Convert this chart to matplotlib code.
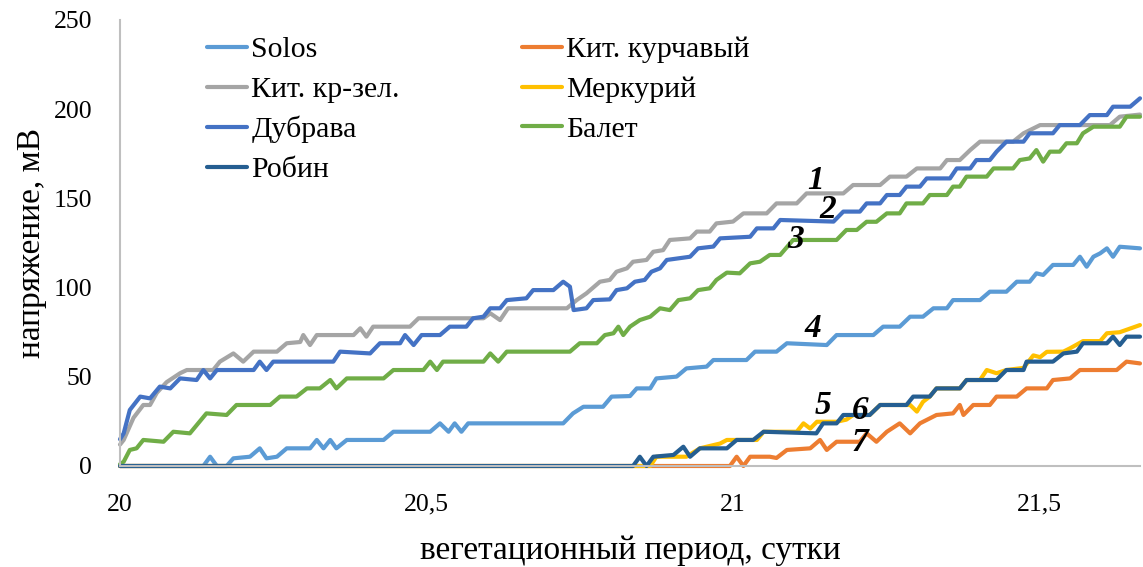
import matplotlib
matplotlib.use('Agg')
import matplotlib.pyplot as plt

plt.rcParams['font.family'] = ['Liberation Serif', 'DejaVu Serif']

# voltage readings, mV, against day of the growing season
solos_x = [20.0, 20.136, 20.147, 20.158, 20.174, 20.185, 20.212, 20.228, 20.239, 20.256, 20.272, 20.310,
           20.321, 20.332, 20.343, 20.353, 20.370, 20.430, 20.446, 20.506, 20.522, 20.536, 20.546, 20.557,
           20.568, 20.723, 20.739, 20.756, 20.788, 20.802, 20.832, 20.843, 20.865, 20.875, 20.908, 20.924,
           20.957, 20.968, 21.022, 21.036, 21.071, 21.088, 21.153, 21.169, 21.229, 21.245, 21.272, 21.289,
           21.310, 21.327, 21.349, 21.359, 21.403, 21.419, 21.446, 21.463, 21.484, 21.495, 21.506, 21.522,
           21.555, 21.566, 21.577, 21.588, 21.599, 21.610, 21.620, 21.631, 21.664]
solos_y = [0, 0, 5.2, 0, 0, 4.3, 5.2, 9.9, 4.3, 5.2, 9.9, 9.9,
           14.6, 9.9, 14.6, 9.9, 14.6, 14.6, 19.2, 19.2, 23.9, 19.2, 23.9, 19.2,
           23.9, 23.9, 29.5, 33.2, 33.2, 38.9, 39.2, 43.5, 43.5, 49.1, 50.1, 54.7,
           55.7, 59.4, 59.4, 64.1, 64.1, 68.8, 67.8, 73.4, 73.4, 78.1, 78.1, 83.7,
           83.7, 88.4, 88.4, 93.0, 93.0, 97.7, 97.7, 103.3, 103.3, 108.0, 107.1, 112.7,
           112.7, 117.3, 111.7, 117.3, 119.2, 122.0, 117.3, 122.9, 122.0]

kurch_x = [20.0, 20.995, 21.006, 21.017, 21.028, 21.060, 21.071, 21.088, 21.126, 21.142, 21.153, 21.169,
           21.207, 21.218, 21.234, 21.251, 21.272, 21.289, 21.305, 21.332, 21.359, 21.370, 21.376, 21.392,
           21.419, 21.430, 21.463, 21.479, 21.512, 21.522, 21.550, 21.566, 21.626, 21.642, 21.664]
kurch_y = [0, 0, 5.2, 0, 5.2, 5.2, 4.5, 9.0, 9.9, 14.6, 9.0, 13.6,
           13.6, 18.3, 13.6, 19.2, 23.9, 18.3, 23.9, 28.6, 29.5, 34.2, 28.6, 34.2,
           34.2, 38.9, 38.9, 43.5, 43.5, 48.2, 49.1, 53.8, 53.8, 58.5, 57.5]

krzel_x = [20.0, 20.006, 20.022, 20.038, 20.049, 20.060, 20.076, 20.098, 20.109, 20.152, 20.163, 20.185,
           20.201, 20.218, 20.256, 20.272, 20.294, 20.299, 20.310, 20.321, 20.381, 20.392, 20.402, 20.413,
           20.473, 20.487, 20.593, 20.604, 20.620, 20.633, 20.729, 20.745, 20.761, 20.783, 20.799, 20.810,
           20.827, 20.837, 20.859, 20.870, 20.886, 20.897, 20.930, 20.941, 20.962, 20.973, 21.000, 21.017,
           21.055, 21.071, 21.104, 21.120, 21.180, 21.196, 21.240, 21.256, 21.283, 21.300,
           21.338, 21.349, 21.370, 21.387, 21.403, 21.457, 21.474, 21.501, 21.615, 21.631, 21.664]
krzel_y = [12, 14.6, 27, 34.2, 34.2, 41, 47, 52, 53.8, 53.8, 58.5, 63.1,
           58.5, 64.1, 64.1, 68.8, 69.5, 73.4, 67.8, 73.4, 73.4, 77.2, 72.5, 78.1,
           78.1, 82.8, 82.8, 85.6, 81.8, 88.4, 88.4, 93.0, 96.8, 103.3, 104.3, 108.9,
           110.8, 114.5, 115.5, 120.1, 121.0, 126.7, 127.6, 131.4, 131.4, 136.0, 137.0, 141.6,
           141.6, 147.2, 147.2, 152.8, 152.8, 157.5, 157.5, 162.2, 162.2, 166.8,
           166.8, 171.5, 171.5, 177.1, 181.8, 181.8, 186.5, 191.1, 191.1, 195.8, 197.0]

merk_x = [20.0, 20.865, 20.875, 20.924, 20.946, 20.979, 20.990, 21.039, 21.050, 21.104, 21.115, 21.126,
          21.137, 21.169, 21.185, 21.196, 21.223, 21.240, 21.289, 21.300, 21.310, 21.321, 21.332, 21.370,
          21.381, 21.403, 21.414, 21.430, 21.446, 21.474, 21.490, 21.501, 21.512, 21.539, 21.550, 21.571,
          21.599, 21.610, 21.631, 21.664]
merk_y = [0, 0, 5.2, 5.2, 9.9, 12.6, 14.6, 14.6, 19.2, 19.2, 23.9, 21.0,
          24.8, 24.8, 26.0, 28.6, 28.6, 34.2, 34.2, 30.5, 36.0, 38.9, 43.5, 43.5,
          48.2, 48.2, 53.8, 52.0, 53.8, 55.0, 62.0, 61.0, 64.0, 64.1, 66.0, 70.0,
          70.0, 74.4, 75.0, 79.0]

dubr_x = [20.0, 20.006, 20.016, 20.033, 20.049, 20.065, 20.082, 20.098, 20.125, 20.136, 20.147, 20.158,
          20.218, 20.228, 20.239, 20.250, 20.348, 20.359, 20.408, 20.424, 20.457, 20.465, 20.479, 20.492,
          20.522, 20.538, 20.565, 20.576, 20.593, 20.604, 20.620, 20.631, 20.663, 20.674, 20.707, 20.723,
          20.734, 20.740, 20.761, 20.772, 20.799, 20.810, 20.827, 20.840, 20.856, 20.867, 20.881, 20.892,
          20.930, 20.943, 20.968, 20.979, 21.028, 21.039, 21.066, 21.077, 21.164, 21.180, 21.207, 21.218,
          21.240, 21.251, 21.272, 21.283, 21.305, 21.316, 21.354, 21.365, 21.387, 21.397, 21.419, 21.430,
          21.446, 21.474, 21.484, 21.522, 21.533, 21.566, 21.582, 21.610, 21.620, 21.648, 21.664]
dubr_y = [15, 18.3, 31.4, 38.9, 37.9, 44.5, 43.5, 49.1, 48.2, 53.8, 49.1, 53.8,
          53.8, 58.5, 53.8, 58.5, 58.5, 64.1, 63.1, 68.8, 68.8, 73.4, 67.8, 73.4,
          73.4, 78.1, 78.1, 82.8, 83.7, 88.4, 88.4, 93.0, 94.0, 98.6, 98.6, 103.3,
          100.5, 87.4, 88.4, 93.0, 93.4, 98.6, 99.6, 103.3, 104.3, 108.9, 110.8, 115.5,
          117.3, 122.0, 123.0, 127.6, 128.5, 133.2, 133.2, 137.9, 137.0, 142.6, 142.6, 147.2,
          147.2, 151.9, 151.9, 156.6, 156.6, 161.2, 161.2, 166.8, 166.8, 171.5, 171.5, 176.2,
          181.8, 181.8, 186.5, 186.5, 191.1, 191.1, 196.7, 196.7, 201.4, 201.4, 206.1]

balet_x = [20.0, 20.006, 20.016, 20.027, 20.038, 20.071, 20.087, 20.114, 20.141, 20.174, 20.190, 20.245,
           20.261, 20.288, 20.305, 20.326, 20.343, 20.353, 20.370, 20.430, 20.446, 20.495, 20.506, 20.517,
           20.527, 20.593, 20.604, 20.617, 20.631, 20.734, 20.750, 20.778, 20.791, 20.805, 20.813, 20.821,
           20.832, 20.848, 20.865, 20.881, 20.897, 20.911, 20.930, 20.943, 20.962, 20.973, 20.990, 21.011,
           21.028, 21.044, 21.060, 21.077, 21.098,
           21.169, 21.185, 21.202, 21.218, 21.234, 21.251, 21.272, 21.283, 21.310, 21.321, 21.349, 21.359,
           21.370, 21.381, 21.414, 21.425, 21.457, 21.468, 21.484, 21.495, 21.506, 21.517, 21.533, 21.544,
           21.561, 21.571, 21.588, 21.631, 21.642, 21.664]
balet_y = [1, 2.4, 9.0, 9.9, 14.6, 13.6, 19.2, 18.3, 29.5, 28.6, 34.2, 34.2,
           38.9, 38.9, 43.5, 43.5, 48.2, 43.5, 49.1, 49.1, 53.8, 53.8, 58.5, 53.8,
           58.5, 58.5, 63.1, 58.5, 64.1, 64.1, 68.8, 68.8, 73.4, 74.4, 78.1, 73.4,
           78.1, 81.8, 83.7, 88.4, 87.4, 93.0, 94.0, 98.6, 99.6, 104.3, 108.4, 108.0,
           113.6, 114.5, 118.3, 118.3, 126.7,
           126.7, 132.3, 132.3, 136.9, 136.9, 141.6, 141.6, 147.2, 147.2, 151.9, 151.9, 156.6,
           156.6, 162.2, 162.2, 166.8, 166.8, 171.5, 172.4, 177.1, 170.6, 176.2, 176.2, 180.9,
           180.9, 186.5, 190.2, 190.2, 195.8, 195.8]

robin_x = [20.0, 20.837, 20.848, 20.859, 20.870, 20.903, 20.919, 20.930, 20.946, 20.990, 21.006, 21.033,
           21.050, 21.136, 21.147, 21.169, 21.180, 21.223, 21.240, 21.283, 21.294, 21.321, 21.332, 21.370,
           21.381, 21.430, 21.446, 21.474, 21.479, 21.522, 21.539, 21.561, 21.571, 21.610, 21.620, 21.631,
           21.642, 21.664]
robin_y = [0, 0, 5.2, 0, 5.2, 6.2, 10.8, 5.2, 9.9, 9.9, 14.6, 14.6,
           19.2, 18.3, 23.9, 23.9, 28.6, 28.6, 34.2, 34.2, 38.9, 38.9, 43.5, 43.5,
           48.2, 48.2, 53.8, 53.8, 58.5, 58.5, 63.1, 64.1, 68.8, 68.8, 72.5, 67.8,
           72.5, 72.5]

# curve numbers written next to the lines
curve_nums = ['1', '2', '3', '4', '5', '6', '7']
num_x = [21.135, 21.155, 21.103, 21.131, 21.147, 21.207, 21.207]
num_y = [160, 143.5, 127, 77, 34, 31, 13]

xticks = [20, 20.5, 21, 21.5]
xtick_labels = ['20', '20,5', '21', '21,5']
yticks = [0, 50, 100, 150, 200, 250]

fig = plt.figure(figsize=(11.43, 5.67), dpi=100)
ax = fig.add_axes([120 / 1143, 101 / 567, 1020 / 1143, 446 / 567])

lw = 3.0
kw = dict(lw=lw, solid_joinstyle='round', solid_capstyle='round', clip_on=False)
l_solos, = ax.plot(solos_x, solos_y, color='#5B9BD5', label='Solos', **kw)
l_kurch, = ax.plot(kurch_x, kurch_y, color='#ED7D31', label='Кит. курчавый', **kw)
l_krzel, = ax.plot(krzel_x, krzel_y, color='#A5A5A5', label='Кит. кр-зел.', **kw)
l_merk, = ax.plot(merk_x, merk_y, color='#FFC000', label='Меркурий', **kw)
l_dubr, = ax.plot(dubr_x, dubr_y, color='#4472C4', label='Дубрава', **kw)
l_balet, = ax.plot(balet_x, balet_y, color='#70AD47', label='Балет', **kw)
l_robin, = ax.plot(robin_x, robin_y, color='#255E91', label='Робин', **kw)

for t, x, y in zip(curve_nums, num_x, num_y):
    ax.text(x, y, t, fontsize=24, fontweight='bold', fontstyle='italic',
            ha='center', va='center', zorder=5)

ax.set_xlim(20, 21.664)
ax.set_ylim(0, 250)
ax.set_xticks(xticks)
ax.set_xticklabels(xtick_labels)
ax.set_yticks(yticks)
ax.tick_params(axis='both', length=0, labelsize=18.5)
ax.tick_params(axis='x', pad=20)
ax.tick_params(axis='y', pad=20)

for s in ['top', 'right']:
    ax.spines[s].set_visible(False)
for s in ['left', 'bottom']:
    ax.spines[s].set_color('#BFBFBF')
    ax.spines[s].set_linewidth(1.5)

ax.set_xlabel('вегетационный период, сутки', fontsize=24, labelpad=14)
ax.set_ylabel('напряжение, мВ', fontsize=24, labelpad=4.5)

handles = [l_solos, l_krzel, l_dubr, l_robin, l_kurch, l_merk, l_balet]
ax.legend(handles=handles, labels=[h.get_label() for h in handles], ncol=2,
          loc='upper left', bbox_to_anchor=(0.0853, 0.963), frameon=False,
          fontsize=21.5, borderaxespad=0, borderpad=0, handlelength=1.35,
          handletextpad=0.13, labelspacing=0.43, columnspacing=4.1)

fig.savefig('out.png', dpi=100)
